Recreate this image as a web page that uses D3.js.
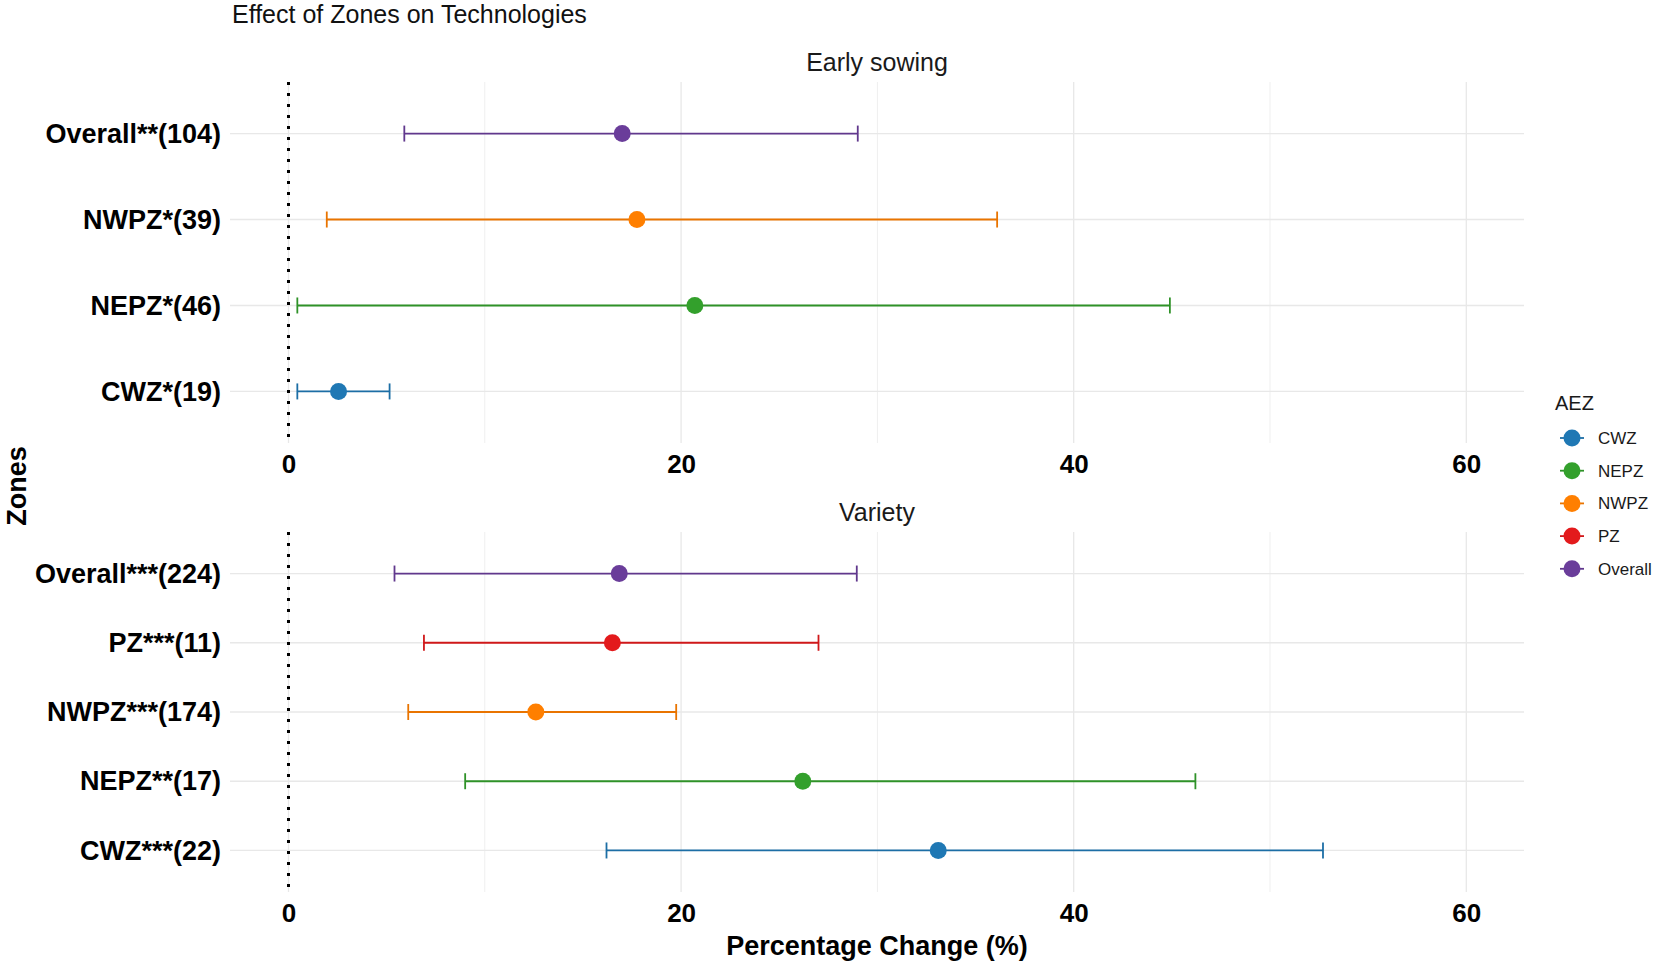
<!DOCTYPE html>
<html>
<head>
<meta charset="utf-8">
<script src="https://cdn.jsdelivr.net/npm/d3@7"></script>
<style>
  body { margin: 0; background: #fff; }
  text { font-family: "Liberation Sans", Arial, sans-serif; }
</style>
</head>
<body>
<div id="chart"></div>
<script>
// data
const zones = ["CWZ", "NEPZ", "NWPZ", "PZ", "Overall"];
const zoneColors = ["#1f78b4", "#33a02c", "#ff7f00", "#e31a1c", "#6a3d9a"];

const earlyLabels = ["CWZ*(19)", "NEPZ*(46)", "NWPZ*(39)", "Overall**(104)"];
const earlyZones = ["CWZ", "NEPZ", "NWPZ", "Overall"];
const earlyEst = [2.55, 20.7, 17.75, 17.0];
const earlyLow = [0.45, 0.45, 1.95, 5.9];
const earlyHigh = [5.15, 44.9, 36.1, 29.0];

const varietyLabels = ["CWZ***(22)", "NEPZ**(17)", "NWPZ***(174)", "PZ***(11)", "Overall***(224)"];
const varietyZones = ["CWZ", "NEPZ", "NWPZ", "PZ", "Overall"];
const varietyEst = [33.1, 26.2, 12.6, 16.5, 16.85];
const varietyLow = [16.2, 9.0, 6.1, 6.9, 5.4];
const varietyHigh = [52.7, 46.2, 19.75, 27.0, 28.95];

const majorTicks = [0, 20, 40, 60];
const minorTicks = [10, 30, 50];

const width = 1654, height = 966;
const svg = d3.select("#chart").append("svg")
  .attr("width", width)
  .attr("height", height);

const color = d3.scaleOrdinal().domain(zones).range(zoneColors);

const x = d3.scaleLinear()
  .domain([-2.98, 62.94])
  .range([230, 1524]);

const panels = [
  { title: "Early sowing", top: 82, bottom: 443, labels: earlyLabels, zones: earlyZones, est: earlyEst, low: earlyLow, high: earlyHigh },
  { title: "Variety", top: 532, bottom: 892, labels: varietyLabels, zones: varietyZones, est: varietyEst, low: varietyLow, high: varietyHigh }
];

svg.append("text")
  .attr("x", 232)
  .attr("y", 23)
  .attr("font-size", 25)
  .attr("fill", "#111")
  .text("Effect of Zones on Technologies");

panels.forEach(p => {
  const rows = p.labels.map((l, i) => ({
    label: l, zone: p.zones[i], est: p.est[i], low: p.low[i], high: p.high[i]
  }));

  const y = d3.scalePoint()
    .domain(p.labels)
    .range([p.bottom, p.top])
    .padding(0.6);

  const g = svg.append("g");

  // grid
  g.selectAll(".minor")
    .data(minorTicks)
    .enter().append("line")
      .attr("x1", d => x(d)).attr("x2", d => x(d))
      .attr("y1", p.top).attr("y2", p.bottom)
      .attr("stroke", "#efefef")
      .attr("stroke-width", 1);

  g.selectAll(".major")
    .data(majorTicks)
    .enter().append("line")
      .attr("x1", d => x(d)).attr("x2", d => x(d))
      .attr("y1", p.top).attr("y2", p.bottom)
      .attr("stroke", "#e8e8e8")
      .attr("stroke-width", 1.3);

  g.selectAll(".hgrid")
    .data(p.labels)
    .enter().append("line")
      .attr("x1", x.range()[0]).attr("x2", x.range()[1])
      .attr("y1", d => y(d)).attr("y2", d => y(d))
      .attr("stroke", "#e8e8e8")
      .attr("stroke-width", 1.3);

  // reference line at zero
  g.append("line")
    .attr("x1", x(0)).attr("x2", x(0))
    .attr("y1", p.top).attr("y2", p.bottom)
    .attr("stroke", "#000")
    .attr("stroke-width", 3)
    .attr("stroke-dasharray", "3,8");

  // facet title
  svg.append("text")
    .attr("x", (x.range()[0] + x.range()[1]) / 2)
    .attr("y", p.top - 11)
    .attr("text-anchor", "middle")
    .attr("font-size", 25)
    .attr("fill", "#1a1a1a")
    .text(p.title);

  // axes
  const xAxis = g.append("g")
    .attr("transform", `translate(0,${p.bottom})`)
    .call(d3.axisBottom(x).tickValues(majorTicks).tickSize(0).tickPadding(12));
  xAxis.select(".domain").remove();
  xAxis.selectAll("text")
    .attr("font-size", 26)
    .attr("font-weight", "bold")
    .attr("fill", "#000")
    .style("font-family", "'Liberation Sans', Arial, sans-serif");

  const yAxis = g.append("g")
    .attr("transform", `translate(${x.range()[0]},0)`)
    .call(d3.axisLeft(y).tickSize(0).tickPadding(9));
  yAxis.select(".domain").remove();
  yAxis.selectAll("text")
    .attr("font-size", 27)
    .attr("font-weight", "bold")
    .attr("fill", "#000")
    .style("font-family", "'Liberation Sans', Arial, sans-serif");

  // error bars
  const bars = g.selectAll(".bar")
    .data(rows)
    .enter().append("g")
      .attr("stroke", d => d3.color(color(d.zone)).darker(0.25))
      .attr("stroke-width", 1.8);

  bars.append("line")
    .attr("x1", d => x(d.low)).attr("x2", d => x(d.high))
    .attr("y1", d => y(d.label)).attr("y2", d => y(d.label));
  bars.append("line")
    .attr("x1", d => x(d.low)).attr("x2", d => x(d.low))
    .attr("y1", d => y(d.label) - 8).attr("y2", d => y(d.label) + 8);
  bars.append("line")
    .attr("x1", d => x(d.high)).attr("x2", d => x(d.high))
    .attr("y1", d => y(d.label) - 8).attr("y2", d => y(d.label) + 8);

  g.selectAll(".pt")
    .data(rows)
    .enter().append("circle")
      .attr("cx", d => x(d.est))
      .attr("cy", d => y(d.label))
      .attr("r", 8.5)
      .attr("fill", d => color(d.zone));
});

// axis titles
svg.append("text")
  .attr("x", 877)
  .attr("y", 955)
  .attr("text-anchor", "middle")
  .attr("font-size", 27)
  .attr("font-weight", "bold")
  .text("Percentage Change (%)");

svg.append("text")
  .attr("transform", "translate(26,486) rotate(-90)")
  .attr("text-anchor", "middle")
  .attr("font-size", 27)
  .attr("font-weight", "bold")
  .text("Zones");

// legend
const legend = svg.append("g");
legend.append("text")
  .attr("x", 1555)
  .attr("y", 410)
  .attr("font-size", 20)
  .attr("fill", "#1a1a1a")
  .text("AEZ");

const keys = legend.selectAll(".key")
  .data(zones)
  .enter().append("g")
    .attr("transform", (d, i) => `translate(1572,${438 + i * 32.7})`);

keys.append("line")
  .attr("x1", -12).attr("x2", 12)
  .attr("stroke", d => d3.color(color(d)).darker(0.25))
  .attr("stroke-width", 1.8);
keys.append("circle")
  .attr("r", 8.5)
  .attr("fill", d => color(d));
keys.append("text")
  .attr("x", 26)
  .attr("y", 6)
  .attr("font-size", 17)
  .attr("fill", "#1a1a1a")
  .text(d => d);
</script>
</body>
</html>
